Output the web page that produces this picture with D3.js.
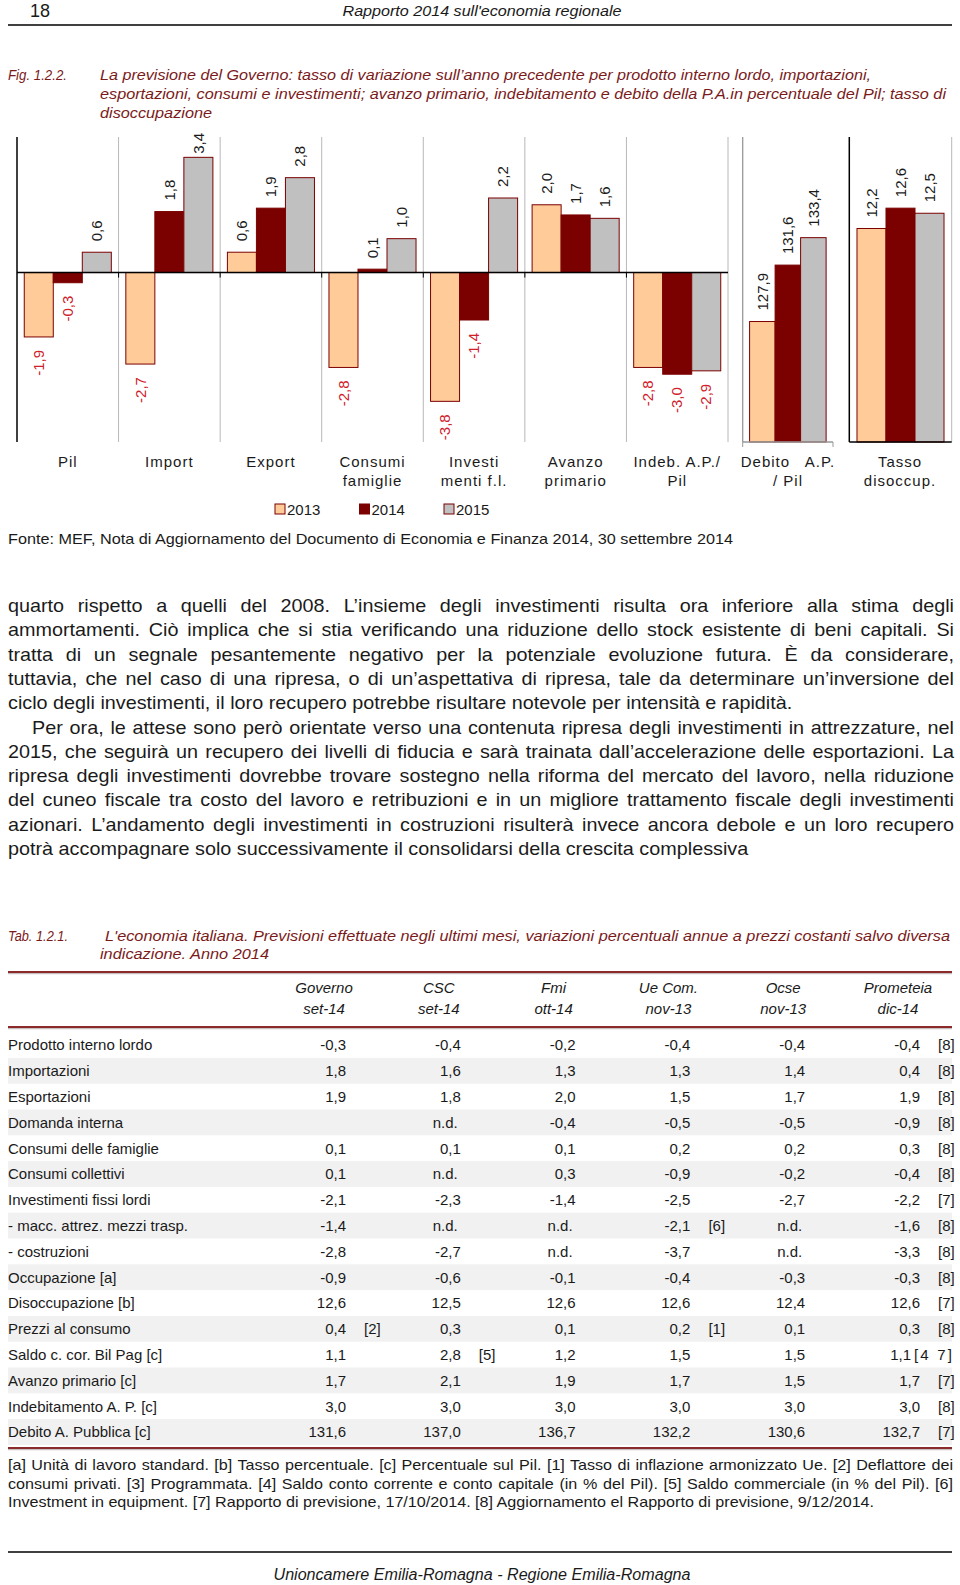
<!DOCTYPE html>
<html><head><meta charset="utf-8">
<script src="https://cdn.jsdelivr.net/npm/d3@7"></script>
<style>
body{margin:0;background:#fff}
svg{display:block}
text{font-family:"Liberation Sans",Arial,sans-serif;fill:#1a1a1a}
</style>
</head><body><svg id="c" width="960" height="1585"></svg>
<script>
// ---------- DATA ----------
const years = ["2013","2014","2015"];
const categories = [["Pil"],["Import"],["Export"],["Consumi","famiglie"],["Investi","menti f.l."],["Avanzo","primario"],["Indeb. A.P./","Pil"]];
const values2013 = [-1.9,-2.7,0.6,-2.8,-3.8,2.0,-2.8];
const values2014 = [-0.3,1.8,1.9,0.1,-1.4,1.7,-3.0];
const values2015 = [0.6,3.4,2.8,1.0,2.2,1.6,-2.9];
const debitoCategory = ["Debito   A.P.","/ Pil"];
const debitoValues = [127.9,131.6,133.4];
const tassoCategory = ["Tasso","disoccup."];
const tassoValues = [12.2,12.6,12.5];

const tableColumns = ["Governo","CSC","Fmi","Ue Com.","Ocse","Prometeia"];
const tableDates = ["set-14","set-14","ott-14","nov-13","nov-13","dic-14"];
const tableRows = ["Prodotto interno lordo","Importazioni","Esportazioni","Domanda interna","Consumi delle famiglie","Consumi collettivi","Investimenti fissi lordi","- macc. attrez. mezzi trasp.","- costruzioni","Occupazione [a]","Disoccupazione [b]","Prezzi al consumo","Saldo c. cor. Bil Pag [c]","Avanzo primario [c]","Indebitamento A. P. [c]","Debito A. Pubblica [c]"];
const tableValues = [
 ["-0,3","-0,4","-0,2","-0,4","-0,4","-0,4"],
 ["1,8","1,6","1,3","1,3","1,4","0,4"],
 ["1,9","1,8","2,0","1,5","1,7","1,9"],
 ["","n.d.","-0,4","-0,5","-0,5","-0,9"],
 ["0,1","0,1","0,1","0,2","0,2","0,3"],
 ["0,1","n.d.","0,3","-0,9","-0,2","-0,4"],
 ["-2,1","-2,3","-1,4","-2,5","-2,7","-2,2"],
 ["-1,4","n.d.","n.d.","-2,1","n.d.","-1,6"],
 ["-2,8","-2,7","n.d.","-3,7","n.d.","-3,3"],
 ["-0,9","-0,6","-0,1","-0,4","-0,3","-0,3"],
 ["12,6","12,5","12,6","12,6","12,4","12,6"],
 ["0,4","0,3","0,1","0,2","0,1","0,3"],
 ["1,1","2,8","1,2","1,5","1,5","1,1"],
 ["1,7","2,1","1,9","1,7","1,5","1,7"],
 ["3,0","3,0","3,0","3,0","3,0","3,0"],
 ["131,6","137,0","136,7","132,2","130,6","132,7"]
];
const tableNotes = [
 ["","","","","","[8]"],["","","","","","[8]"],["","","","","","[8]"],["","","","","","[8]"],
 ["","","","","","[8]"],["","","","","","[8]"],["","","","","","[7]"],["","","","[6]","","[8]"],
 ["","","","","","[8]"],["","","","","","[8]"],["","","","","","[7]"],["[2]","","","[1]","","[8]"],
 ["","[5]","","","","[4 7]"],["","","","","","[7]"],["","","","","","[8]"],["","","","","","[7]"]
];

const headerTitle = "Rapporto 2014 sull'economia regionale";
const figLabel = "Fig. 1.2.2.";
const figCaption = ["La previsione del Governo: tasso di variazione sull’anno precedente per prodotto interno lordo, importazioni,",
 "esportazioni, consumi e investimenti; avanzo primario, indebitamento e debito della P.A.in percentuale del Pil; tasso di",
 "disoccupazione"];
const sourceText = "Fonte: MEF, Nota di Aggiornamento del Documento di Economia e Finanza 2014, 30 settembre 2014";
const bodyLines = [
 "quarto rispetto a quelli del 2008. L’insieme degli investimenti risulta ora inferiore alla stima degli",
 "ammortamenti. Ciò implica che si stia verificando una riduzione dello stock esistente di beni capitali. Si",
 "tratta di un segnale pesantemente negativo per la potenziale evoluzione futura. È da considerare,",
 "tuttavia, che nel caso di una ripresa, o di un’aspettativa di ripresa, tale da determinare un’inversione del",
 "ciclo degli investimenti, il loro recupero potrebbe risultare notevole per intensità e rapidità.",
 "Per ora, le attese sono però orientate verso una contenuta ripresa degli investimenti in attrezzature, nel",
 "2015, che seguirà un recupero dei livelli di fiducia e sarà trainata dall’accelerazione delle esportazioni. La",
 "ripresa degli investimenti dovrebbe trovare sostegno nella riforma del mercato del lavoro, nella riduzione",
 "del cuneo fiscale tra costo del lavoro e retribuzioni e in un migliore trattamento fiscale degli investimenti",
 "azionari. L’andamento degli investimenti in costruzioni risulterà invece ancora debole e un loro recupero",
 "potrà accompagnare solo successivamente il consolidarsi della crescita complessiva"
];
const tabLabel = "Tab. 1.2.1.";
const tabCaption = ["L'economia italiana. Previsioni effettuate  negli ultimi mesi, variazioni percentuali annue a prezzi costanti salvo diversa",
 "indicazione. Anno 2014"];
const footnotes = [
 "[a] Unità di lavoro standard. [b] Tasso percentuale. [c] Percentuale sul Pil. [1] Tasso di inflazione armonizzato Ue. [2] Deflattore dei",
 "consumi privati. [3] Programmata. [4] Saldo conto corrente e conto capitale (in % del Pil). [5] Saldo commerciale (in % del Pil). [6]",
 "Investment in equipment. [7] Rapporto di previsione, 17/10/2014. [8] Aggiornamento el Rapporto di previsione, 9/12/2014."
];
const footerText = "Unioncamere Emilia-Romagna - Regione Emilia-Romagna";

// ---------- STYLE ----------
const DR = "#7b0000", PEACH = "#ffcc99", GREY = "#c0c0c0", NEG = "#d0202a", CAP = "#7a1a1a", RULE = "#8a2a2a";
const fills = {"2013": PEACH, "2014": DR, "2015": GREY};
const svg = d3.select("#c");

function fitText(t, w){ t.attr("textLength", w).attr("lengthAdjust","spacingAndGlyphs"); return t; }
function textBlock(g, lines, opts){
  const tmp = g.append("text").attr("font-size", opts.size).attr("font-style", opts.italic?"italic":null).text(lines[opts.refLine]);
  const k = opts.refWidth / tmp.node().getComputedTextLength();
  tmp.remove();
  lines.forEach((s,i)=>{
    const x0 = opts.x0[i] !== undefined ? opts.x0[i] : opts.x0.default;
    const y = opts.y0 + i*opts.dy;
    const t = g.append("text").attr("transform",`translate(${x0},${y}) scale(${k},1)`)
      .attr("font-size", opts.size).attr("font-style", opts.italic?"italic":null)
      .style("fill", opts.color || "#1a1a1a").text(s);
    if (opts.justify[i]) {
      const n = t.node().getComputedTextLength();
      const sp = (s.match(/ /g)||[]).length;
      const target = (opts.right - x0)/k;
      if (sp>0) t.style("word-spacing", ((target-n)/sp)+"px");
    }
  });
}

// ---------- HEADER ----------
svg.append("text").attr("x",30).attr("y",17).attr("font-size",18).text("18");
fitText(svg.append("text").attr("x",482).attr("y",16).attr("text-anchor","middle").attr("font-size",15.5).attr("font-style","italic").text(headerTitle),279);
svg.append("line").attr("x1",8).attr("x2",952).attr("y1",25).attr("y2",25).attr("stroke","#000").attr("stroke-width",1.5);

fitText(svg.append("text").attr("x",8).attr("y",80).attr("font-size",15.5).attr("font-style","italic").style("fill",CAP).text(figLabel),59);
const capEnds = [871,946,212];
figCaption.forEach((s,i)=>{
  fitText(svg.append("text").attr("x",100).attr("y",80+i*19).attr("font-size",15).attr("font-style","italic").style("fill",CAP).text(s), capEnds[i]-100);
});

// ---------- CHART ----------
const TOP = 137, BOT = 442;
const x1 = d3.scaleBand().domain(d3.range(categories.length)).range([17,728]);
const xi = d3.scaleBand().domain(years).range([0,x1.bandwidth()]).paddingOuter(0.25);
const y1 = d3.scaleLinear().domain([-5,4]).range([BOT,TOP]);
const series = {"2013":values2013,"2014":values2014,"2015":values2015};

const gc = svg.append("g");
gc.selectAll(".sep").data(d3.range(1,categories.length+1)).join("line")
  .attr("x1",i=>x1(i)??x1.range()[1]).attr("x2",i=>x1(i)??x1.range()[1])
  .attr("y1",TOP).attr("y2",BOT).attr("stroke","#b8b8b8").attr("stroke-width",1);
gc.selectAll(".tk").data(d3.range(1,categories.length)).join("line")
  .attr("x1",i=>x1(i)).attr("x2",i=>x1(i)).attr("y1",y1(0)).attr("y2",y1(0)+5).attr("stroke","#000");

const bars1 = [];
categories.forEach((c,i)=>years.forEach(yr=>bars1.push({i, yr, v: series[yr][i]})));
gc.selectAll(".b1").data(bars1).join("rect")
  .attr("x",d=>x1(d.i)+xi(d.yr)).attr("width",xi.bandwidth())
  .attr("y",d=>y1(Math.max(0,d.v))).attr("height",d=>Math.abs(y1(d.v)-y1(0)))
  .attr("fill",d=>fills[d.yr]).attr("stroke",DR).attr("stroke-width",1);

gc.append("line").attr("x1",17).attr("x2",17).attr("y1",TOP).attr("y2",BOT).attr("stroke","#000").attr("stroke-width",1.5);
gc.append("line").attr("x1",17).attr("x2",728).attr("y1",y1(0)).attr("y2",y1(0)).attr("stroke","#000").attr("stroke-width",1.5);

function valLabel(g, d, cx, topY, botY, neg){
  const s = d3.format(".1f")(Math.abs(d)).replace(".",",");
  const str = (d<0?"-":"") + s;
  const t = g.append("text").attr("font-size",15).attr("dy","0.35em").text(str)
    .style("fill", neg ? NEG : "#1a1a1a");
  const len = t.node().getComputedTextLength();
  if (!neg) {
    let sy = topY - 11;
    if (sy - len < 133) sy = 133 + len;
    t.attr("text-anchor","start").attr("transform",`translate(${cx},${sy}) rotate(-90)`);
  } else {
    t.attr("text-anchor","end").attr("transform",`translate(${cx},${botY+13}) rotate(-90)`);
  }
}
bars1.forEach(d=>{
  const cx = x1(d.i)+xi(d.yr)+xi.bandwidth()/2;
  valLabel(gc, d.v, cx, y1(Math.max(0,d.v)), y1(Math.min(0,d.v)), d.v<0);
});

// Debito panel
const xd = d3.scaleBand().domain(years).range([742.7,833]).paddingOuter(0.27);
const yd = d3.scaleLinear().domain([120,140]).range([BOT,TOP]);
gc.selectAll(".bd").data(years).join("rect")
  .attr("x",yr=>xd(yr)).attr("width",xd.bandwidth())
  .attr("y",(yr,i)=>yd(debitoValues[i])).attr("height",(yr,i)=>BOT-yd(debitoValues[i]))
  .attr("fill",yr=>fills[yr]).attr("stroke",DR);
gc.append("line").attr("x1",742.7).attr("x2",742.7).attr("y1",TOP).attr("y2",BOT).attr("stroke","#999").attr("stroke-width",1.3);
gc.append("line").attr("x1",742.7).attr("x2",833).attr("y1",BOT).attr("y2",BOT).attr("stroke","#999").attr("stroke-width",1.3);
gc.append("line").attr("x1",833).attr("x2",833).attr("y1",BOT).attr("y2",BOT+5).attr("stroke","#999");
gc.append("line").attr("x1",742.7).attr("x2",742.7).attr("y1",BOT).attr("y2",BOT+5).attr("stroke","#999");
years.forEach((yr,i)=>valLabel(gc, debitoValues[i], xd(yr)+xd.bandwidth()/2, yd(debitoValues[i]), BOT, false));

// Tasso panel
const xt = d3.scaleBand().domain(years).range([849.3,951.7]).paddingOuter(0.265);
const yt = d3.scaleLinear().domain([8,14]).range([BOT,TOP]);
gc.append("line").attr("x1",951.7).attr("x2",951.7).attr("y1",TOP).attr("y2",BOT).attr("stroke","#b8b8b8");
gc.selectAll(".bt").data(years).join("rect")
  .attr("x",yr=>xt(yr)).attr("width",xt.bandwidth())
  .attr("y",(yr,i)=>yt(tassoValues[i])).attr("height",(yr,i)=>BOT-yt(tassoValues[i]))
  .attr("fill",yr=>fills[yr]).attr("stroke",DR);
gc.append("line").attr("x1",849.3).attr("x2",849.3).attr("y1",TOP).attr("y2",BOT).attr("stroke","#000").attr("stroke-width",1.5);
gc.append("line").attr("x1",849.3).attr("x2",951.7).attr("y1",BOT).attr("y2",BOT).attr("stroke","#000").attr("stroke-width",1.5);
years.forEach((yr,i)=>valLabel(gc, tassoValues[i], xt(yr)+xt.bandwidth()/2, yt(tassoValues[i]), BOT, false));

function catLabel(lines, cx){
  lines.forEach((s,j)=>{
    gc.append("text").attr("x",cx).attr("y",467+j*18.5).attr("text-anchor","middle")
      .attr("font-size",15).style("letter-spacing","1px").style("white-space","pre").text(s);
  });
}
categories.forEach((c,i)=>catLabel(c, x1(i)+x1.bandwidth()/2));
catLabel(debitoCategory, 788);
catLabel(tassoCategory, 900);

const xl = d3.scalePoint().domain(years).range([275,444]);
const lg = svg.append("g").selectAll("g").data(years).join("g").attr("transform",yr=>`translate(${xl(yr)},504)`);
lg.append("rect").attr("width",10).attr("height",10).attr("fill",yr=>fills[yr]).attr("stroke",DR);
lg.append("text").attr("x",12).attr("y",10.5).attr("font-size",15).text(yr=>yr);

fitText(svg.append("text").attr("x",8).attr("y",544).attr("font-size",15).text(sourceText),725);

// ---------- BODY TEXT ----------
const bx = {default:8}; bx[5]=32;
textBlock(svg.append("g"), bodyLines, {size:17.5, refLine:4, refWidth:785, x0:bx, y0:612, dy:24.3, right:954,
  justify:[true,true,true,true,false,true,true,true,true,true,false]});

// ---------- TABLE ----------
fitText(svg.append("text").attr("x",8).attr("y",941).attr("font-size",15.5).attr("font-style","italic").style("fill",CAP).text(tabLabel),60);
fitText(svg.append("text").attr("x",105).attr("y",941).attr("font-size",15).attr("font-style","italic").style("fill",CAP).text(tabCaption[0]),845);
fitText(svg.append("text").attr("x",100).attr("y",959).attr("font-size",15).attr("font-style","italic").style("fill",CAP).text(tabCaption[1]),169);

const colX = d3.scaleLinear().domain([0,5]).range([346,920]);
const rowY = d3.scaleLinear().domain([0,1]).range([1045,1070.8]);
const gt = svg.append("g");
gt.selectAll(".shade").data(tableRows).join("rect")
  .attr("x",8).attr("width",944).attr("y",(r,i)=>rowY(i)-12.9).attr("height",25.8)
  .attr("fill",(r,i)=>i%2?"#f1f1f1":"none");
function rule(y){
  gt.append("line").attr("x1",8).attr("x2",952).attr("y1",y+1.6).attr("y2",y+1.6).attr("stroke","#c8c0c0").attr("stroke-width",1.2);
  gt.append("line").attr("x1",8).attr("x2",952).attr("y1",y).attr("y2",y).attr("stroke",RULE).attr("stroke-width",2.2);
}
rule(972); rule(1027); rule(1448);
tableColumns.forEach((c,j)=>{
  gt.append("text").attr("x",colX(j)-22).attr("y",993).attr("text-anchor","middle").attr("font-size",15).attr("font-style","italic").text(c);
  gt.append("text").attr("x",colX(j)-22).attr("y",1014).attr("text-anchor","middle").attr("font-size",15).attr("font-style","italic").text(tableDates[j]);
});
tableRows.forEach((r,i)=>{
  const y = rowY(i)+5.3;
  gt.append("text").attr("x",8).attr("y",y).attr("font-size",15).text(r);
  tableValues[i].forEach((v,j)=>{
    const note = tableNotes[i][j];
    let vx = colX(j);
    if (v==="n.d.") vx -= 3;
    if (note.length>3) vx -= 9;
    gt.append("text").attr("x",vx).attr("y",y).attr("text-anchor","end").attr("font-size",15).text(v);
    if (note) {
      const nx = j===5 ? (note.length>3 ? 914 : 938) : colX(j)+18;
      const nt = gt.append("text").attr("x",nx).attr("y",y).attr("font-size",15).text(note);
      if (note.length>3) nt.attr("textLength",38).attr("lengthAdjust","spacing");
    }
  });
});

textBlock(svg.append("g"), footnotes, {size:14.5, refLine:2, refWidth:867, x0:{default:8}, y0:1470, dy:18.5, right:953,
  justify:[true,true,false]});

svg.append("line").attr("x1",8).attr("x2",952).attr("y1",1552).attr("y2",1552).attr("stroke","#000").attr("stroke-width",1.5);
fitText(svg.append("text").attr("x",482).attr("y",1580).attr("text-anchor","middle").attr("font-size",16).attr("font-style","italic").text(footerText),417);
</script>
</body></html>
